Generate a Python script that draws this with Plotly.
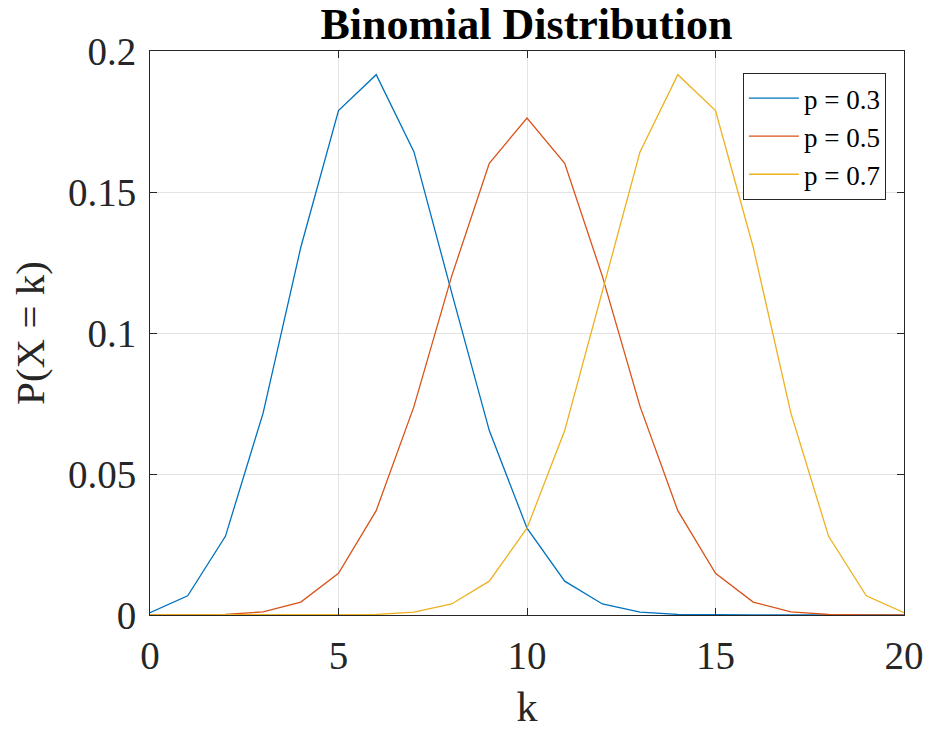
import plotly.graph_objects as go

# Number of successes k for n = 20 trials
k = list(range(21))

# P(X = k) for each success probability
pmf_p03 = [0.0008, 0.0068, 0.0279, 0.0716, 0.1304, 0.1789, 0.1916, 0.1643,
           0.1144, 0.0654, 0.0308, 0.0120, 0.0039, 0.0010, 0.0002, 0.00004,
           0.000005, 0.0, 0.0, 0.0, 0.0]
pmf_p05 = [0.0, 0.00002, 0.0002, 0.0011, 0.0046, 0.0148, 0.0370, 0.0739,
           0.1201, 0.1602, 0.1762, 0.1602, 0.1201, 0.0739, 0.0370, 0.0148,
           0.0046, 0.0011, 0.0002, 0.00002, 0.0]
pmf_p07 = [0.0, 0.0, 0.0, 0.0, 0.000005, 0.00004, 0.0002, 0.0010, 0.0039,
           0.0120, 0.0308, 0.0654, 0.1144, 0.1643, 0.1916, 0.1789, 0.1304,
           0.0716, 0.0279, 0.0068, 0.0008]

series_names = ["p = 0.3", "p = 0.5", "p = 0.7"]
series_values = [pmf_p03, pmf_p05, pmf_p07]
series_colors = ["#0072BD", "#D95319", "#EDB120"]

x_ticks = [0, 5, 10, 15, 20]
y_ticks = [0, 0.05, 0.1, 0.15, 0.2]
y_tick_text = ["0", "0.05", "0.1", "0.15", "0.2"]

FONT = "Liberation Serif, Times New Roman, serif"
AXIS_COLOR = "#262626"

fig = go.Figure()
for name, vals, col in zip(series_names, series_values, series_colors):
    fig.add_trace(go.Scatter(x=k, y=vals, mode="lines", name=name,
                             line=dict(color=col, width=1.3)))

axis_common = dict(
    showline=True, linecolor=AXIS_COLOR, linewidth=1, mirror="ticks",
    ticks="inside", ticklen=7, tickcolor=AXIS_COLOR, tickwidth=1,
    showgrid=True, gridcolor="#E3E3E3", gridwidth=1, zeroline=False,
    automargin=False,
    tickfont=dict(family=FONT, size=39, color="#262626"),
)

fig.update_layout(
    width=930, height=730,
    margin=dict(l=150, r=26, t=51, b=115),
    paper_bgcolor="white", plot_bgcolor="white",
    font=dict(family=FONT, color="#262626"),
    title=dict(text="<b>Binomial Distribution</b>", x=0.566, xanchor="center",
               y=0.968, yanchor="middle",
               font=dict(family=FONT, size=44, color="black")),
    xaxis=dict(range=[0, 20], tickvals=x_ticks, ticklabelstandoff=6,
               title=dict(text="k", font=dict(family=FONT, size=42, color="#262626"),
                          standoff=18),
               **axis_common),
    yaxis=dict(range=[0, 0.2], tickvals=y_ticks, ticktext=y_tick_text,
               ticklabelstandoff=5,
               title=dict(text="P(X = k)", font=dict(family=FONT, size=41, color="#262626"),
                          standoff=10),
               **axis_common),
    legend=dict(x=0.976, xanchor="right", y=0.961, yanchor="top",
                bgcolor="white", bordercolor="#262626", borderwidth=1,
                font=dict(family=FONT, size=27, color="black"),
                tracegroupgap=0, itemwidth=50),
    showlegend=True,
)

fig.write_html("out.html")
